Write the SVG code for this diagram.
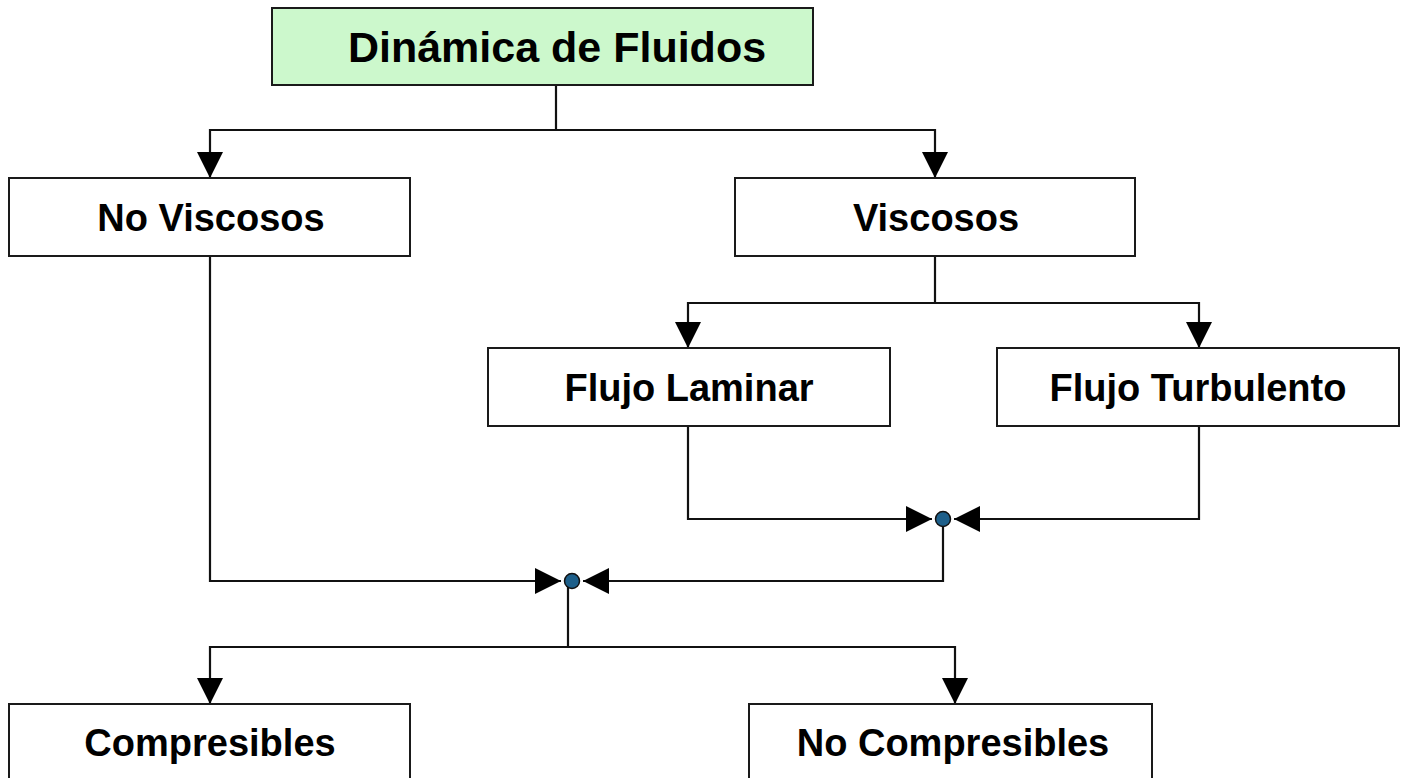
<svg xmlns="http://www.w3.org/2000/svg" width="1405" height="778" viewBox="0 0 1405 778">
<style>
.box{fill:#ffffff;stroke:#1a1a1a;stroke-width:2}
.root{fill:#ccf8cc}
.lbl{font-family:"Liberation Sans",Arial,sans-serif;font-weight:bold;font-size:38px;fill:#000;text-anchor:middle}
.big{font-size:43px}
.con{fill:none;stroke:#111;stroke-width:2.2}
.dot{fill:#1d5f8a;stroke:#111;stroke-width:1.5}
</style>
<defs>
<marker id="arr" markerUnits="userSpaceOnUse" markerWidth="26" markerHeight="26" viewBox="0 0 26 26" refX="26" refY="13" orient="auto">
<path d="M0,0 L26,13 L0,26 z" fill="#000"/>
</marker>
</defs>
<rect width="1405" height="778" fill="#ffffff"/>
<g id="connectors">
<path class="con" d="M556,85 V130 H210 V178" marker-end="url(#arr)"/>
<path class="con" d="M556,130 H935 V178" marker-end="url(#arr)"/>
<path class="con" d="M935,256 V303 H688 V348" marker-end="url(#arr)"/>
<path class="con" d="M935,303 H1199 V348" marker-end="url(#arr)"/>
<path class="con" d="M688,426 V519 H932" marker-end="url(#arr)"/>
<path class="con" d="M1199,426 V519 H954" marker-end="url(#arr)"/>
<path class="con" d="M943,519 V581 H583" marker-end="url(#arr)"/>
<path class="con" d="M210,256 V581 H561" marker-end="url(#arr)"/>
<path class="con" d="M568,581 V647 H210 V704" marker-end="url(#arr)"/>
<path class="con" d="M568,647 H955 V704" marker-end="url(#arr)"/>
<circle class="dot" cx="943" cy="519" r="7.5"/>
<circle class="dot" cx="572" cy="581" r="7.5"/>
</g>
<g id="n-dinamica">
<rect class="box root" x="272" y="8" width="541" height="77"/>
<text class="lbl big" x="557" y="62">Dinámica de Fluidos</text>
</g>
<g id="n-noviscosos">
<rect class="box" x="9" y="178" width="401" height="78"/>
<text class="lbl" x="211" y="231">No Viscosos</text>
</g>
<g id="n-viscosos">
<rect class="box" x="735" y="178" width="400" height="78"/>
<text class="lbl" x="936" y="231">Viscosos</text>
</g>
<g id="n-laminar">
<rect class="box" x="488" y="348" width="402" height="78"/>
<text class="lbl" x="689" y="401">Flujo Laminar</text>
</g>
<g id="n-turbulento">
<rect class="box" x="997" y="348" width="402" height="78"/>
<text class="lbl" x="1198" y="401">Flujo Turbulento</text>
</g>
<g id="n-compresibles">
<rect class="box" x="9" y="704" width="401" height="80"/>
<text class="lbl" x="210" y="756">Compresibles</text>
</g>
<g id="n-nocompresibles">
<rect class="box" x="749" y="704" width="403" height="80"/>
<text class="lbl" x="953" y="756">No Compresibles</text>
</g>
</svg>
